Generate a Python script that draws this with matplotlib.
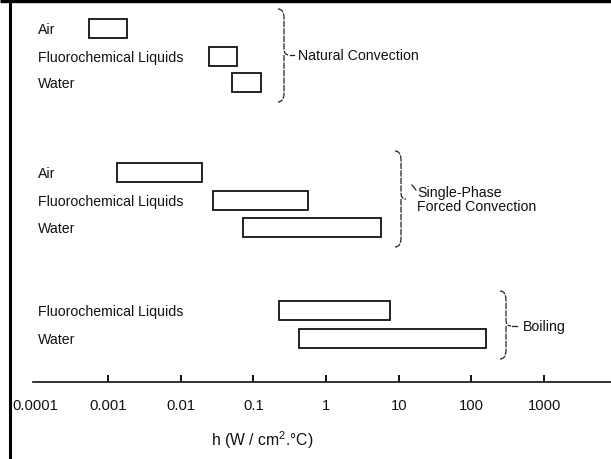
import matplotlib
matplotlib.use('Agg')
import matplotlib.pyplot as plt
from matplotlib.path import Path
from matplotlib.patches import PathPatch

plt.rcParams['font.family'] = ['Liberation Sans', 'DejaVu Sans']
plt.rcParams['mathtext.fontset'] = 'custom'
plt.rcParams['mathtext.rm'] = 'Liberation Sans'

# data: ranges of heat transfer coefficient h (W/cm2.C)
nat_fluids = ['Air', 'Fluorochemical Liquids', 'Water']
nat_lo = [0.00055, 0.0246, 0.0509]
nat_hi = [0.00183, 0.0597, 0.1276]

forced_fluids = ['Air', 'Fluorochemical Liquids', 'Water']
forced_lo = [0.00133, 0.0279, 0.0721]
forced_hi = [0.0197, 0.565, 5.71]

boil_fluids = ['Fluorochemical Liquids', 'Water']
boil_lo = [0.226, 0.425]
boil_hi = [7.6, 159.0]

group_names = ['Natural Convection', 'Single-Phase\nForced Convection', 'Boiling']

tick_vals = [0.0001, 0.001, 0.01, 0.1, 1, 10, 100, 1000]
tick_labels = ['0.0001', '0.001', '0.01', '0.1', '1', '10', '100', '1000']

W, H = 611, 460
fig = plt.figure(figsize=(W / 100, H / 100), dpi=100)

# main axes uses pixel rows for y, log scale for x
ax = fig.add_axes([0, 0, 1, 1])
ax.set_xscale('log')
x0_px, dec_px = 326.0, 72.7   # pixel of h=1, pixels per decade
ax.set_xlim(10 ** ((0 - x0_px) / dec_px), 10 ** ((W - x0_px) / dec_px))
ax.set_ylim(H, 0)
ax.patch.set_visible(False)

rows = [
    (nat_fluids, nat_lo, nat_hi, [29, 57, 83]),
    (forced_fluids, forced_lo, forced_hi, [173, 201, 228]),
    (boil_fluids, boil_lo, boil_hi, [311, 339]),
]
for fluids, lo, hi, ys in rows:
    widths = [h - l for l, h in zip(lo, hi)]
    ax.barh(ys, widths, left=lo, height=19, fill=False,
            edgecolor='#111111', linewidth=1.3)

for s in ['top', 'left', 'right']:
    ax.spines[s].set_visible(False)
ax.spines['bottom'].set_position(('data', 383))
ax.spines['bottom'].set_bounds(10 ** ((33 - x0_px) / dec_px), ax.get_xlim()[1])
ax.spines['bottom'].set_linewidth(1.2)
ax.spines['bottom'].set_color('#111111')
ax.set_xticks(tick_vals)
ax.set_xticklabels(tick_labels)
ax.xaxis.set_minor_locator(matplotlib.ticker.NullLocator())
ax.tick_params(axis='x', direction='in', length=5, width=1.4, pad=11.5,
               labelsize=10.6, colors='#111111')
ax.xaxis.get_major_ticks()[0].tick1line.set_visible(False)
for lbl in ax.get_xticklabels():
    lbl.set_x(lbl.get_position()[0])
ax.set_yticks([])

# overlay in pixel coordinates for labels, braces and frame
deco = fig.add_axes([0, 0, 1, 1])
deco.set_xlim(0, W)
deco.set_ylim(H, 0)
deco.axis('off')

for fluids, lo, hi, ys in rows:
    for name, y in zip(fluids, ys):
        deco.text(38, y + 1, name, fontsize=10.2, va='center', ha='left', color='#111111')


def brace(x, top, bot, tip):
    verts = [(x - 6, top), (x, top), (x, top + 9),
             (x, tip - 6), (x, tip), (x + 5, tip),
             (x, tip), (x, tip + 6),
             (x, bot - 9), (x, bot), (x - 6, bot)]
    codes = [Path.MOVETO, Path.CURVE3, Path.CURVE3,
             Path.LINETO, Path.CURVE3, Path.CURVE3,
             Path.MOVETO, Path.CURVE3,
             Path.LINETO, Path.CURVE3, Path.CURVE3]
    deco.add_patch(PathPatch(Path(verts, codes), fill=False, lw=0.9,
                             edgecolor='#222222', linestyle=(0, (5, 1))))


brace(284, 10, 103, 56)
deco.plot([290, 294], [56, 56], color='#222222', lw=0.9)
deco.text(298, 56, group_names[0], fontsize=10.2, va='center', color='#111111')

brace(401, 152, 248, 200)
deco.plot([412, 416], [186, 191], color='#222222', lw=0.9)
deco.text(417, 200, group_names[1], fontsize=10.2, va='center', color='#111111',
          linespacing=0.95)

brace(506, 292, 360, 327)
deco.plot([512, 517], [327, 327], color='#222222', lw=0.9)
deco.text(523, 327, group_names[2], fontsize=10.2, va='center', color='#111111')

deco.text(262, 440, 'h (W / cm$^{2}$.°C)', fontsize=11.3, ha='center', va='center',
          color='#111111')

# frame lines on top and left
deco.plot([0, W], [1.5, 1.5], color='black', lw=2.4, solid_capstyle='butt')
deco.plot([9.5, 9.5], [0, H], color='black', lw=2.2, solid_capstyle='butt')

fig.savefig('out.png', dpi=100)
